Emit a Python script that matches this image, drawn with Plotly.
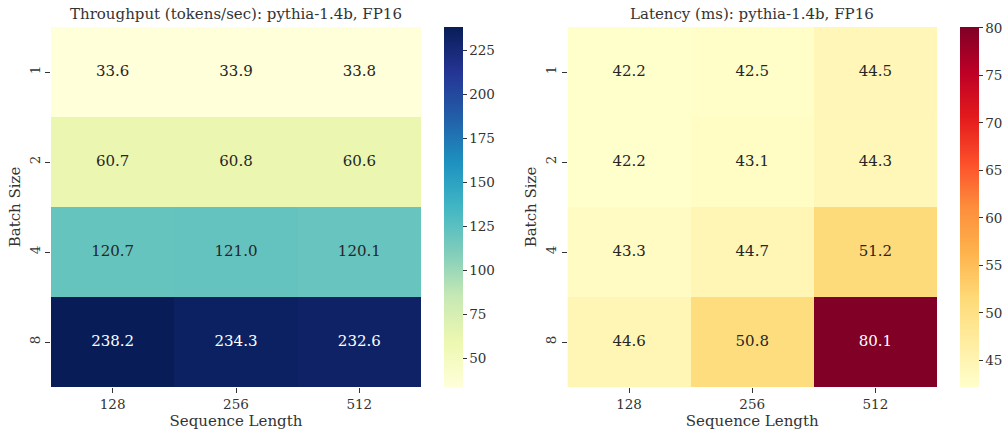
import plotly.graph_objects as go
import plotly.colors as pc

seq_lengths = ["128", "256", "512"]
batch_sizes = ["1", "2", "4", "8"]
throughput = [
    [33.6, 33.9, 33.8],
    [60.7, 60.8, 60.6],
    [120.7, 121.0, 120.1],
    [238.2, 234.3, 232.6],
]
latency = [
    [42.2, 42.5, 44.5],
    [42.2, 43.1, 44.3],
    [43.3, 44.7, 51.2],
    [44.6, 50.8, 80.1],
]
title_tp = "Throughput (tokens/sec): pythia-1.4b, FP16"
title_lat = "Latency (ms): pythia-1.4b, FP16"

FONT = "DejaVu Serif"
TXT = "#333333"
W, H = 1006, 430
FS = 13.5

def px_x(v):
    return v / W

def px_y(v):
    return 1 - v / H

fig = go.Figure()

def add_heat(z, cs, xa, ya, cb_x, dtick, dark_thresh):
    zmin = min(min(r) for r in z)
    zmax = max(max(r) for r in z)
    fig.add_trace(go.Heatmap(
        z=z, x=seq_lengths, y=batch_sizes, xaxis=xa, yaxis=ya,
        colorscale=cs, zmin=zmin, zmax=zmax, showscale=True,
        colorbar=dict(
            x=px_x(cb_x), xanchor="left", y=px_y(27), yanchor="top",
            len=360, lenmode="pixels", thickness=18.5, thicknessmode="pixels",
            outlinewidth=0, xpad=0, ypad=0, ticks="outside", ticklen=4,
            tickcolor=TXT, dtick=dtick, tick0=0,
            tickfont=dict(family=FONT, size=FS, color=TXT),
        ),
        hoverinfo="skip",
    ))
    xs, ys, ts, cols = [], [], [], []
    for i, b in enumerate(batch_sizes):
        for j, s in enumerate(seq_lengths):
            v = z[i][j]
            xs.append(s)
            ys.append(b)
            ts.append(f"{v:.1f}")
            frac = (v - zmin) / (zmax - zmin)
            cols.append("white" if frac > dark_thresh else "#262626")
    fig.add_trace(go.Scatter(
        x=xs, y=ys, mode="text", text=ts, xaxis=xa, yaxis=ya,
        textfont=dict(family=FONT, size=15, color=cols),
        showlegend=False, hoverinfo="skip",
    ))

add_heat(throughput, pc.sequential.YlGnBu, "x", "y", 444, 25, 0.6)
add_heat(latency, pc.sequential.YlOrRd, "x2", "y2", 960, 5, 0.6)

axis_common = dict(
    showgrid=False, zeroline=False, showline=False, ticks="outside",
    ticklen=5, tickcolor=TXT, tickfont=dict(family=FONT, size=FS, color=TXT),
    type="category",
)
tfont = dict(family=FONT, size=15, color=TXT)

fig.update_layout(
    width=W, height=H, margin=dict(l=0, r=0, t=0, b=0, autoexpand=False),
    plot_bgcolor="white", paper_bgcolor="white", showlegend=False,
    font=dict(family=FONT, color=TXT),
    xaxis=dict(domain=[px_x(51), px_x(421)], anchor="y",
               title=dict(text="Sequence Length", font=tfont, standoff=3),
               **axis_common),
    yaxis=dict(domain=[px_y(387), px_y(27)], anchor="x", autorange="reversed",
               tickangle=-90,
               title=dict(text="Batch Size", font=tfont, standoff=2),
               **axis_common),
    xaxis2=dict(domain=[px_x(567.5), px_x(937)], anchor="y2",
                title=dict(text="Sequence Length", font=tfont, standoff=3),
                **axis_common),
    yaxis2=dict(domain=[px_y(387), px_y(27)], anchor="x2", autorange="reversed",
                tickangle=-90,
                title=dict(text="Batch Size", font=tfont, standoff=2),
                **axis_common),
    annotations=[
        dict(text=title_tp, x=(px_x(51) + px_x(421)) / 2, y=px_y(14), xref="paper", yref="paper",
             showarrow=False, font=dict(family=FONT, size=15, color=TXT), xanchor="center", yanchor="middle"),
        dict(text=title_lat, x=(px_x(567.5) + px_x(937)) / 2, y=px_y(14), xref="paper", yref="paper",
             showarrow=False, font=dict(family=FONT, size=15, color=TXT), xanchor="center", yanchor="middle"),
    ],
)

fig.write_html(
    "out.html",
    config={"displayModeBar": False},
    post_script="document.body.style.margin='0';document.body.style.overflow='hidden';",
)
